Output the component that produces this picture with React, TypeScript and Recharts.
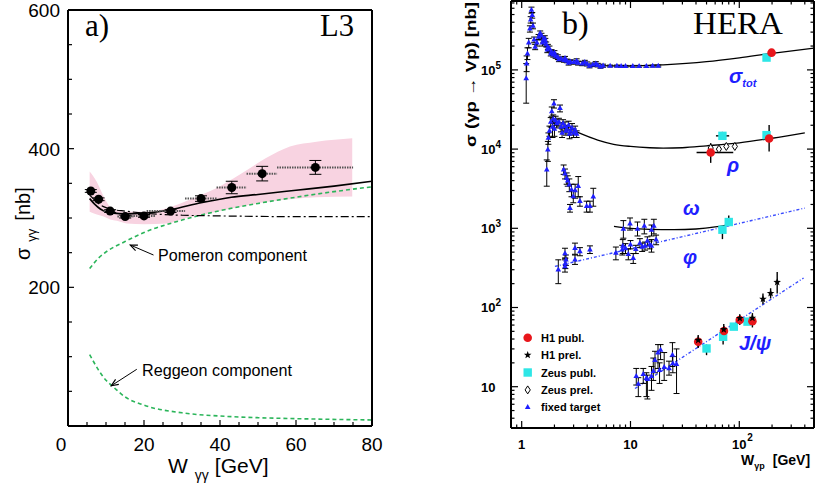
import React from 'react';
import { ComposedChart, Area, Line, Scatter, XAxis, YAxis, ErrorBar, ReferenceLine } from 'recharts';

const FONT = "'Liberation Sans', Arial, Helvetica, sans-serif";
const SERIF = "'Liberation Serif', 'Times New Roman', serif";
const BLUE = '#1f1fff';
const RED = '#e8161b';
const CYAN = '#2ee6e6';
const GREEN = '#2bb55a';
const PINK = '#f8d3e1';

// ---------- panel a) L3, sigma_gg vs W_gg ----------
const L3_W = [6.0, 8.05, 11.1, 15.05, 20.0, 27.0, 35.0, 43.1, 51.1, 65.1];
const L3_SIGMA = [339, 327, 310, 302, 303, 310, 328, 344, 364, 373];
const L3_W_LO = [6.0, 8.05, 9.4, 13.0, 15.9, 20.7, 30.8, 39.1, 47.0, 55.0];
const L3_W_HI = [6.0, 8.05, 12.4, 17.2, 22.9, 30.8, 39.1, 47.0, 55.0, 75.0];
const L3_ERR = [2, 2, 2, 2, 2, 2, 4, 9, 10.5, 10];

const BAND_W = [5.7, 7.6, 9.4, 11.1, 12.9, 15.5, 20, 26, 31, 35, 39, 45, 52, 58.4, 65.4, 74.8];
const BAND_HI = [367, 352, 331, 316, 311, 309, 309, 314, 324, 333, 343, 362, 386, 403, 410, 415];
const BAND_LO = [309, 305, 302, 298, 296, 292, 291, 292, 300, 304, 309, 316, 323, 327, 330, 331];

const FIT_W = [5.7, 7, 8.5, 10, 12, 15, 20, 27, 35, 43, 50, 60, 70, 80];
const FIT_S = [328, 320, 313, 309, 307, 306, 307, 312, 322, 330, 334, 340, 346, 353];

const DD_W = [5.7, 7, 8.5, 10, 12, 15, 20, 25, 30, 40, 60, 80];
const DD_S = [333, 326, 319, 315, 312, 310, 307, 305, 304, 303, 302, 302];

const POM_W = [5.7, 8, 10, 15, 20, 30, 40, 50, 60, 70, 80];
const POM_S = [227, 242, 251, 266, 279, 297, 310.6, 321, 330, 338, 345];

const REG_W = [5.7, 8, 10, 12, 15, 20, 30, 40, 50, 60, 80];
const REG_S = [103, 81, 66, 56, 42, 30, 19, 14.4, 12, 10.6, 8.7];

const A_XTICKS = [0, 5, 10, 15, 20, 25, 30, 35, 40, 45, 50, 55, 60, 65, 70, 75, 80];
const A_YTICKS = [0, 50, 100, 150, 200, 250, 300, 350, 400, 450, 500, 550, 600];

// ---------- panel b) HERA, sigma(gamma p -> V p) vs W ----------
type P = [number, number, number, number]; // W, sigma, low, high
type H = [number, number, number, number, number, number]; // + W low, W high

const FT_TOT: P[] = [
  [1.10, 7.8e4, 3.8e4, 1.2e5], [1.11, 1.2e5, 9.5e4, 1.5e5], [1.13, 1.6e5, 1.35e5, 1.9e5],
  [1.16, 2.2e5, 1.9e5, 2.5e5], [1.19, 3.3e5, 3.0e5, 3.6e5], [1.21, 4.3e5, 3.9e5, 4.7e5],
  [1.23, 5.7e5, 5.2e5, 6.2e5], [1.25, 4.9e5, 4.5e5, 5.3e5], [1.27, 3.6e5, 3.3e5, 3.9e5],
  [1.30, 2.4e5, 2.2e5, 2.6e5], [1.33, 1.95e5, 1.8e5, 2.1e5], [1.38, 2.2e5, 2.0e5, 2.4e5],
  [1.43, 2.6e5, 2.4e5, 2.8e5], [1.48, 2.9e5, 2.7e5, 3.1e5], [1.52, 2.7e5, 2.5e5, 2.9e5],
  [1.55, 2.2e5, 2.0e5, 2.4e5], [1.58, 2.4e5, 2.2e5, 2.6e5], [1.63, 2.5e5, 2.3e5, 2.7e5],
  [1.65, 2.3e5, 2.1e5, 2.5e5], [1.68, 2.1e5, 1.95e5, 2.25e5], [1.72, 1.8e5, 1.65e5, 1.95e5],
  [1.74, 1.95e5, 1.8e5, 2.1e5], [1.80, 1.85e5, 1.7e5, 2.0e5], [1.85, 1.6e5, 1.5e5, 1.7e5],
  [1.88, 1.7e5, 1.6e5, 1.8e5], [1.95, 1.55e5, 1.45e5, 1.65e5], [2.0, 1.65e5, 1.55e5, 1.75e5],
  [2.05, 1.5e5, 1.4e5, 1.6e5], [2.15, 1.45e5, 1.35e5, 1.55e5], [2.2, 1.35e5, 1.27e5, 1.43e5],
  [2.3, 1.38e5, 1.3e5, 1.46e5], [2.45, 1.33e5, 1.25e5, 1.41e5], [2.5, 1.4e5, 1.32e5, 1.48e5],
  [2.6, 1.3e5, 1.23e5, 1.37e5], [2.7, 1.22e5, 1.15e5, 1.29e5], [2.8, 1.27e5, 1.2e5, 1.34e5],
  [3.0, 1.25e5, 1.18e5, 1.32e5], [3.2, 1.3e5, 1.22e5, 1.38e5], [3.3, 1.22e5, 1.15e5, 1.29e5],
  [3.6, 1.2e5, 1.13e5, 1.27e5], [3.8, 1.25e5, 1.18e5, 1.32e5], [4.0, 1.19e5, 1.12e5, 1.26e5],
  [4.2, 1.12e5, 1.06e5, 1.18e5], [4.5, 1.16e5, 1.1e5, 1.22e5], [4.8, 1.2e5, 1.13e5, 1.27e5],
  [5.0, 1.15e5, 1.09e5, 1.21e5], [5.3, 1.1e5, 1.05e5, 1.15e5], [5.6, 1.13e5, 1.08e5, 1.18e5],
  [6.5, 1.12e5, 1.09e5, 1.15e5], [7.5, 1.12e5, 1.09e5, 1.15e5], [8.2, 1.11e5, 1.08e5, 1.14e5],
  [9, 1.11e5, 1.08e5, 1.14e5], [10.5, 1.11e5, 1.08e5, 1.14e5], [12, 1.11e5, 1.08e5, 1.14e5],
  [14, 1.11e5, 1.08e5, 1.14e5], [16, 1.12e5, 1.09e5, 1.15e5], [18, 1.12e5, 1.09e5, 1.15e5],
];

const FT_RHO: P[] = [
  [1.74, 9.8e3, 7.0e3, 1.25e4], [1.76, 1.38e4, 1.15e4, 1.6e4], [1.80, 1.7e4, 1.45e4, 1.95e4],
  [1.85, 2.2e4, 1.9e4, 2.5e4], [1.89, 2.98e4, 2.6e4, 3.4e4], [1.92, 1.9e4, 1.4e4, 2.4e4],
  [1.95, 2.4e4, 2.1e4, 2.7e4], [1.98, 3.73e4, 3.3e4, 4.2e4], [2.0, 1.8e4, 1.45e4, 2.15e4],
  [2.05, 2.3e4, 2.0e4, 2.6e4], [2.1, 2.1e4, 1.85e4, 2.35e4], [2.2, 2.2e4, 1.95e4, 2.45e4],
  [2.25, 3.28e4, 2.95e4, 3.6e4], [2.3, 1.9e4, 1.65e4, 2.15e4], [2.35, 1.6e4, 1.4e4, 1.8e4],
  [2.4, 2.1e4, 1.85e4, 2.35e4], [2.5, 1.95e4, 1.7e4, 2.2e4], [2.55, 1.7e4, 1.5e4, 1.9e4],
  [2.6, 1.8e4, 1.6e4, 2.0e4], [2.7, 2.0e4, 1.75e4, 2.25e4], [2.75, 1.55e4, 1.35e4, 1.75e4],
  [2.8, 1.7e4, 1.5e4, 1.9e4], [2.9, 1.85e4, 1.6e4, 2.1e4], [3.0, 1.6e4, 1.4e4, 1.8e4],
  [3.1, 1.75e4, 1.55e4, 1.95e4], [3.2, 1.55e4, 1.4e4, 1.7e4],
];

const FT_LOW: P[] = [
  [1.70, 5.5e3, 3.4e3, 7.3e3], [2.43, 5.5e3, 4.8e3, 6.3e3], [2.50, 4.9e3, 4.2e3, 5.6e3],
  [2.59, 4.3e3, 3.6e3, 5.0e3], [2.65, 4.0e3, 3.4e3, 4.6e3], [2.74, 3.55e3, 2.9e3, 4.2e3],
  [2.78, 1.8e3, 1.6e3, 2.0e3], [2.87, 3.07e3, 2.5e3, 3.6e3], [2.98, 2.53e3, 2.1e3, 3.0e3],
  [3.1, 3.0e3, 2.4e3, 3.6e3], [3.31, 3.4e3, 2.5e3, 4.5e3], [3.43, 2.2e3, 1.9e3, 2.5e3],
  [3.95, 1.9e3, 1.6e3, 2.2e3], [4.24, 1.9e3, 1.6e3, 2.2e3], [4.55, 2.5e3, 1.9e3, 3.2e3],
];

const FT_OMEGA: P[] = [
  [8.6, 980, 750, 1250], [9.9, 1140, 950, 1350], [11.6, 980, 800, 1200],
  [13.4, 1070, 850, 1300], [15.6, 950, 800, 1100], [16.4, 1070, 850, 1300],
];

const FT_PHI: P[] = [
  [2.17, 300, 200, 400], [2.50, 330, 280, 420], [2.50, 480, 400, 560], [2.52, 360, 310, 420],
  [2.55, 400, 340, 460], [3.09, 560, 470, 650], [3.09, 400, 350, 460], [3.43, 510, 450, 570],
  [4.24, 535, 480, 600], [7.34, 490, 400, 580], [8.4, 535, 460, 610], [8.5, 600, 480, 720],
  [9.0, 560, 480, 640], [9.55, 470, 400, 550], [10.0, 620, 550, 700], [10.6, 420, 360, 480],
  [11.2, 545, 480, 610], [12.2, 650, 570, 740], [12.8, 580, 510, 650], [13.6, 600, 530, 670],
  [14.3, 690, 600, 780], [15.0, 620, 550, 690], [15.6, 600, 500, 720], [17.2, 720, 620, 820],
];

const FT_JPSI: P[] = [
  [11.3, 13.6, 10.5, 17], [11.8, 10.8, 7.5, 13], [13.1, 14.4, 11, 17], [14.0, 12.8, 7.5, 15],
  [14.3, 12.4, 7, 14], [15.6, 13.6, 9, 18], [16.2, 15.7, 12, 23], [16.8, 21.6, 15, 28],
  [17.9, 26.8, 17, 34], [18.5, 16.1, 11, 20], [18.9, 29.2, 22, 34], [20.4, 17.6, 12, 27],
  [22.6, 17.0, 14, 21], [24.3, 25.2, 18, 36], [24.5, 19.6, 15, 24], [26.5, 19.2, 8.2, 30],
];

const H1_PUBL: H[] = [
  [198, 1.65e5, 1.6e5, 1.7e5, 198, 198],
  [54.6, 9.06e3, 6.7e3, 1.19e4, 40.5, 88],
  [188, 1.36e4, 9.3e3, 2.02e4, 188, 188],
  [41.9, 36.9, 31, 43, 41.9, 41.9],
  [72.3, 50.4, 43, 58, 72.3, 72.3],
  [101, 69.4, 60, 80, 101, 101],
  [132, 67.2, 56, 80, 132, 132],
];

const ZEUS_PUBL: H[] = [
  [178, 1.43e5, 1.38e5, 1.48e5, 178, 178],
  [70, 1.47e4, 1.33e4, 1.65e4, 61, 80.7],
  [178, 1.5e4, 1.35e4, 1.65e4, 178, 178],
  [70, 960, 730, 1000, 70, 70],
  [80, 1200, 1100, 1450, 80, 80],
  [50, 30.4, 25, 34, 50, 50],
  [71, 42.7, 34, 50, 71, 71],
  [89, 57.3, 52, 62, 89, 89],
  [119, 66.3, 60, 72, 119, 119],
];

const H1_PREL: P[] = [
  [41.9, 38.7, 31, 45], [72, 52.8, 44, 62], [101, 73, 62, 82], [132, 73.5, 60, 85],
  [165, 128, 110, 150], [194, 151, 130, 175], [223, 209, 150, 280],
];

const ZEUS_PREL: P[] = [
  [54.6, 1.03e4, 0.98e4, 1.08e4], [65, 1.0e4, 0.96e4, 1.05e4],
  [76, 1.08e4, 1.03e4, 1.13e4], [91, 1.08e4, 1.03e4, 1.13e4],
];

const TOT_W = [5.5, 10, 20, 50, 100, 200, 486];
const TOT_S = [1.13e5, 1.12e5, 1.16e5, 1.27e5, 1.42e5, 1.62e5, 1.88e5];
const RHO_W = [3.2, 5, 7, 10, 15, 20, 30, 50, 100, 200, 400];
const RHO_S = [1.65e4, 1.3e4, 1.15e4, 1.08e4, 1.04e4, 1.03e4, 1.04e4, 1.1e4, 1.2e4, 1.37e4, 1.6e4];
const OMEGA_W = [7.05, 10, 15, 25, 40, 60, 76];
const OMEGA_S = [1060, 1000, 970, 960, 980, 1040, 1100];
const PHI_W = [2.02, 400];
const PHI_S = [330, 1800];
const JPSI_W = [11, 390];
const JPSI_S = [9.5, 236];

const B_XTICKS = [0.8, 0.9, 1, 2, 3, 4, 5, 6, 7, 8, 9, 10, 20, 30, 40, 50, 60, 70, 80, 90, 100, 200, 300, 400];
const B_YTICKS = [
  3, 4, 5, 6, 7, 8, 9, 10, 20, 30, 40, 50, 60, 70, 80, 90,
  100, 200, 300, 400, 500, 600, 700, 800, 900, 1e3, 2e3, 3e3, 4e3, 5e3, 6e3, 7e3, 8e3, 9e3,
  1e4, 2e4, 3e4, 4e4, 5e4, 6e4, 7e4, 8e4, 9e4, 1e5, 2e5, 3e5, 4e5, 5e5, 6e5, 7e5,
];

// ---------- tables built for recharts ----------
const curve = (ws: number[], ss: number[]) => ws.map((w, i) => ({ w, s: ss[i] }));
const pts = (rows: P[]) => rows.map(([w, s, lo, hi]) => ({ w, s, ey: [s - lo, hi - s] }));
const hpts = (rows: H[]) => rows.map(([w, s, lo, hi, wl, wh]) => ({ w, s, ey: [s - lo, hi - s], ex: [w - wl, wh - w] }));

const l3Points = L3_W.map((w, i) => ({ w, s: L3_SIGMA[i], ex: [w - L3_W_LO[i], L3_W_HI[i] - w], ey: L3_ERR[i] }));
const bandData = BAND_W.map((w, i) => ({ w, band: [BAND_LO[i], BAND_HI[i]] }));
const fixedTarget = pts([...FT_TOT, ...FT_RHO, ...FT_LOW, ...FT_OMEGA, ...FT_PHI, ...FT_JPSI]);

// ---------- ticks ----------
function AXTick({ x, y, payload }: any) {
  const v = payload.value;
  const major = v % 20 === 0;
  return (
    <g>
      {v > 0 && v < 80 && <line x1={x} x2={x} y1={y} y2={y - (major ? 6 : 4)} stroke="#000" strokeWidth={1.2} />}
      {major && (
        <text x={v === 0 ? x - 7 : x} y={y + 25} textAnchor="middle" fontFamily={FONT} fontSize={19} fill="#000">{v}</text>
      )}
    </g>
  );
}

function AYTick({ x, y, payload }: any) {
  const v = payload.value;
  const major = v % 200 === 0 && v > 0;
  return (
    <g>
      {v > 0 && v < 600 && <line x1={x} x2={x + (major ? 6 : 4)} y1={y} y2={y} stroke="#000" strokeWidth={1.2} />}
      {major && (
        <text x={x - 8} y={y + 7} textAnchor="end" fontFamily={FONT} fontSize={19} fill="#000">{v}</text>
      )}
    </g>
  );
}

const decade = (v: number) => Math.abs(Math.log10(v) - Math.round(Math.log10(v))) < 1e-6;

function BXTick({ x, y, payload }: any) {
  const v = payload.value;
  const major = decade(v);
  const e = Math.round(Math.log10(v));
  return (
    <g>
      <line x1={x} x2={x} y1={y} y2={y - (major ? 7 : 3.5)} stroke="#000" strokeWidth={1.2} />
      {major && e < 2 && (
        <text x={x} y={y + 21} textAnchor="middle" fontFamily={FONT} fontWeight="bold" fontSize={13} fill="#000">{e === 0 ? '1' : '10'}</text>
      )}
      {major && e === 2 && (
        <g>
          <text x={x} y={y + 21} textAnchor="middle" fontFamily={FONT} fontWeight="bold" fontSize={13} fill="#000">10</text>
          <text x={x + 8} y={y + 13} fontFamily={FONT} fontWeight="bold" fontSize={10} fill="#000">2</text>
        </g>
      )}
    </g>
  );
}

function BTopTick({ x, y, payload }: any) {
  const major = decade(payload.value);
  return <line x1={x} x2={x} y1={y} y2={y + (major ? 7 : 3.5)} stroke="#000" strokeWidth={1.2} />;
}

function BYTick({ x, y, payload }: any) {
  const v = payload.value;
  const major = decade(v);
  const e = Math.round(Math.log10(v));
  return (
    <g>
      <line x1={x} x2={x + (major ? 7 : 3.5)} y1={y} y2={y} stroke="#000" strokeWidth={1.2} />
      {major && (
        <text x={x - 30} y={y + 5} fontFamily={FONT} fontWeight="bold" fontSize={13} fill="#000">
          10{e > 1 && <tspan dy={-6} fontSize={10}>{e}</tspan>}
        </text>
      )}
    </g>
  );
}

function BRightTick({ x, y, payload }: any) {
  const major = decade(payload.value);
  return <line x1={x} x2={x - (major ? 7 : 3.5)} y1={y} y2={y} stroke="#000" strokeWidth={1.2} />;
}

// ---------- markers ----------
const starPath = (cx: number, cy: number, R: number) => {
  let d = '';
  for (let i = 0; i < 10; i++) {
    const r = i % 2 === 0 ? R : R * 0.42;
    const a = -Math.PI / 2 + (i * Math.PI) / 5;
    d += `${i === 0 ? 'M' : 'L'}${cx + r * Math.cos(a)},${cy + r * Math.sin(a)}`;
  }
  return d + 'Z';
};

const TriShape = ({ cx, cy }: any) => (
  <path d={`M${cx},${cy - 3.2}L${cx + 2.8},${cy + 1.8}L${cx - 2.8},${cy + 1.8}Z`} fill={BLUE} />
);
const RedDot = ({ cx, cy }: any) => <circle cx={cx} cy={cy} r={4.3} fill={RED} />;
const CyanSq = ({ cx, cy }: any) => <rect x={cx - 4.2} y={cy - 4.2} width={8.4} height={8.4} fill={CYAN} />;
const StarShape = ({ cx, cy }: any) => <path d={starPath(cx, cy, 4)} fill="#000" />;
const DiamondShape = ({ cx, cy }: any) => (
  <path d={`M${cx},${cy - 4}L${cx + 2.6},${cy}L${cx},${cy + 4}L${cx - 2.6},${cy}Z`} fill="#fff" stroke="#000" strokeWidth={1} />
);
const BlackDot = ({ cx, cy }: any) => <circle cx={cx} cy={cy} r={4.5} fill="#000" />;

const Arrow = ({ x1, y1, x2, y2 }: any) => {
  const a = Math.atan2(y2 - y1, x2 - x1);
  const L = 7;
  const W = 3;
  const bx = x2 - L * Math.cos(a);
  const by = y2 - L * Math.sin(a);
  const px = -Math.sin(a) * W;
  const py = Math.cos(a) * W;
  return (
    <g>
      <line x1={x1} y1={y1} x2={x2} y2={y2} stroke="#000" strokeWidth={1} />
      <path d={`M${bx + px},${by + py}L${x2},${y2}L${bx - px},${by - py}`} fill="none" stroke="#000" strokeWidth={1.2} />
    </g>
  );
};

const LEGEND = [
  { label: 'H1 publ.', Icon: RedDot },
  { label: 'H1 prel.', Icon: StarShape },
  { label: 'Zeus publ.', Icon: CyanSq },
  { label: 'Zeus prel.', Icon: DiamondShape },
  { label: 'fixed target', Icon: TriShape },
];

export default function App() {
  return (
    <div style={{ position: 'absolute', left: 0, top: 0, width: 815, height: 486, background: '#fff', overflow: 'hidden' }}>
      {/* panel a */}
      <div style={{ position: 'absolute', left: 0, top: 0 }}>
        <ComposedChart width={400} height={486} margin={{ top: 9, right: 27, bottom: 0, left: 8 }}>
          <XAxis dataKey="w" type="number" domain={[0, 80]} allowDataOverflow ticks={A_XTICKS} interval={0}
            height={60} tickSize={0} tickMargin={0} tickLine={false} tick={AXTick}
            axisLine={{ stroke: '#000', strokeWidth: 2 }} />
          <XAxis xAxisId="t" orientation="top" dataKey="w" type="number" domain={[0, 80]} height={1}
            tick={false} tickLine={false} axisLine={{ stroke: '#000', strokeWidth: 2 }} />
          <YAxis type="number" domain={[0, 600]} allowDataOverflow ticks={A_YTICKS} interval={0}
            width={60} tickSize={0} tickMargin={0} tickLine={false} tick={AYTick}
            axisLine={{ stroke: '#000', strokeWidth: 2 }} />
          <YAxis yAxisId="r" orientation="right" type="number" domain={[0, 600]} width={1}
            tick={false} tickLine={false} axisLine={{ stroke: '#000', strokeWidth: 2 }} />
          <Area data={bandData} dataKey="band" type="monotone" fill={PINK} fillOpacity={1} stroke="none" isAnimationActive={false} />
          <Line data={curve(POM_W, POM_S)} dataKey="s" type="monotone" stroke={GREEN} strokeWidth={1.6}
            strokeDasharray="4 3" dot={false} isAnimationActive={false} />
          <Line data={curve(REG_W, REG_S)} dataKey="s" type="monotone" stroke={GREEN} strokeWidth={1.6}
            strokeDasharray="4 3" dot={false} isAnimationActive={false} />
          <Line data={curve(DD_W, DD_S)} dataKey="s" type="monotone" stroke="#000" strokeWidth={1.2}
            strokeDasharray="8 3 2 3" dot={false} isAnimationActive={false} />
          <Line data={curve(FIT_W, FIT_S)} dataKey="s" type="monotone" stroke="#000" strokeWidth={1.6}
            dot={false} isAnimationActive={false} />
          <Scatter data={l3Points} dataKey="s" shape={BlackDot} isAnimationActive={false}>
            <ErrorBar dataKey="ex" direction="x" width={0} stroke="#555" strokeWidth={2} strokeDasharray="1.5 1" isAnimationActive={false} />
            <ErrorBar dataKey="ey" direction="y" width={6} stroke="#000" strokeWidth={1} isAnimationActive={false} />
          </Scatter>
          <ReferenceLine segment={[{ x: 22.5, y: 246.6 }, { x: 16.4, y: 261 }]} shape={Arrow} />
          <ReferenceLine segment={[{ x: 18.1, y: 81.8 }, { x: 11.4, y: 58.1 }]} shape={Arrow} />
        </ComposedChart>
      </div>

      {/* panel b */}
      <div style={{ position: 'absolute', left: 420, top: 0 }}>
        <ComposedChart width={395} height={486} margin={{ top: 0, right: 0, bottom: 0, left: 41 }}>
          <XAxis dataKey="w" type="number" scale="log" domain={[0.7975, 486]} allowDataOverflow ticks={B_XTICKS}
            interval={0} height={58} tickSize={0} tickMargin={0} tickLine={false} tick={BXTick}
            axisLine={{ stroke: '#000', strokeWidth: 2 }} />
          <XAxis xAxisId="t" orientation="top" dataKey="w" type="number" scale="log" domain={[0.7975, 486]}
            allowDataOverflow ticks={B_XTICKS} interval={0} height={1} tickSize={0} tickMargin={0}
            tickLine={false} tick={BTopTick} axisLine={{ stroke: '#000', strokeWidth: 2 }} />
          <YAxis type="number" scale="log" domain={[3.01, 7.41e5]} allowDataOverflow ticks={B_YTICKS}
            interval={0} width={50} tickSize={0} tickMargin={0} tickLine={false} tick={BYTick}
            axisLine={{ stroke: '#000', strokeWidth: 2 }} />
          <YAxis yAxisId="r" orientation="right" type="number" scale="log" domain={[3.01, 7.41e5]}
            allowDataOverflow ticks={B_YTICKS} interval={0} width={1} tickSize={0} tickMargin={0}
            tickLine={false} tick={BRightTick} axisLine={{ stroke: '#000', strokeWidth: 2 }} />

          <Line data={curve(PHI_W, PHI_S)} dataKey="s" type="linear" stroke="#3a4cff" strokeWidth={1.4}
            strokeDasharray="3 2 1 2" dot={false} isAnimationActive={false} />
          <Line data={curve(JPSI_W, JPSI_S)} dataKey="s" type="linear" stroke="#3a4cff" strokeWidth={1.4}
            strokeDasharray="3 2 1 2" dot={false} isAnimationActive={false} />
          <Line data={curve(TOT_W, TOT_S)} dataKey="s" type="monotone" stroke="#000" strokeWidth={1.3}
            dot={false} isAnimationActive={false} />
          <Line data={curve(RHO_W, RHO_S)} dataKey="s" type="monotone" stroke="#000" strokeWidth={1.3}
            dot={false} isAnimationActive={false} />
          <Line data={curve(OMEGA_W, OMEGA_S)} dataKey="s" type="monotone" stroke="#000" strokeWidth={1.3}
            dot={false} isAnimationActive={false} />

          <Scatter data={fixedTarget} dataKey="s" shape={TriShape} isAnimationActive={false}>
            <ErrorBar dataKey="ey" direction="y" width={3} stroke="#000" strokeWidth={1} isAnimationActive={false} />
          </Scatter>
          <Scatter data={pts(ZEUS_PREL)} dataKey="s" shape={DiamondShape} isAnimationActive={false}>
            <ErrorBar dataKey="ey" direction="y" width={0} stroke="#000" strokeWidth={1} isAnimationActive={false} />
          </Scatter>
          <Scatter data={hpts(ZEUS_PUBL)} dataKey="s" shape={CyanSq} isAnimationActive={false}>
            <ErrorBar dataKey="ey" direction="y" width={0} stroke="#000" strokeWidth={1.4} isAnimationActive={false} />
            <ErrorBar dataKey="ex" direction="x" width={0} stroke="#000" strokeWidth={1.4} isAnimationActive={false} />
          </Scatter>
          <Scatter data={hpts(H1_PUBL)} dataKey="s" shape={RedDot} isAnimationActive={false}>
            <ErrorBar dataKey="ey" direction="y" width={0} stroke="#000" strokeWidth={1.4} isAnimationActive={false} />
            <ErrorBar dataKey="ex" direction="x" width={0} stroke="#000" strokeWidth={1.4} isAnimationActive={false} />
          </Scatter>
          <Scatter data={pts(H1_PREL)} dataKey="s" shape={StarShape} isAnimationActive={false}>
            <ErrorBar dataKey="ey" direction="y" width={0} stroke="#000" strokeWidth={1.4} isAnimationActive={false} />
          </Scatter>
        </ComposedChart>
      </div>

      {/* text overlay */}
      <svg width={815} height={486} style={{ position: 'absolute', left: 0, top: 0, pointerEvents: 'none' }}>
        <text x={85} y={36} fontFamily={SERIF} fontSize={31}>a)</text>
        <text x={320} y={36} fontFamily={SERIF} fontSize={31} textLength={34} lengthAdjust="spacingAndGlyphs">L3</text>
        <text transform="translate(30,260) rotate(-90)" fontFamily={FONT} fontSize={20}>
          σ<tspan dx={6} dy={6} fontSize={13}>γγ</tspan><tspan dx={8} dy={-6}>[nb]</tspan>
        </text>
        <text x={168} y={473} fontFamily={FONT} fontSize={21}>
          W<tspan dx={7} dy={7} fontSize={14}>γγ</tspan><tspan dx={6} dy={-7}>[GeV]</tspan>
        </text>
        <text x={158} y={261} fontFamily={FONT} fontSize={17} textLength={149} lengthAdjust="spacingAndGlyphs">Pomeron component</text>
        <text x={142} y={376} fontFamily={FONT} fontSize={17} textLength={150} lengthAdjust="spacingAndGlyphs">Reggeon component</text>

        <text x={562} y={34} fontFamily={SERIF} fontSize={32}>b)</text>
        <text x={693} y={34} fontFamily={SERIF} fontSize={31} textLength={90} lengthAdjust="spacingAndGlyphs">HERA</text>
        <text transform="translate(476,147) rotate(-90)" fontFamily={FONT} fontWeight="bold" fontSize={15}
          textLength={145} lengthAdjust="spacingAndGlyphs">σ (γp → Vp)  [nb]</text>
        <text x={741} y={465} fontFamily={FONT} fontWeight="bold" fontSize={14}>
          W<tspan dy={4} fontSize={9}>γp</tspan><tspan dx={8} dy={-4}>[GeV]</tspan>
        </text>

        <g fill={BLUE} fontFamily={FONT} fontWeight="bold" fontStyle="italic">
          <text x={729} y={83} fontSize={20}>σ<tspan dy={4} fontSize={11}>tot</tspan></text>
          <text x={727} y={172} fontSize={20}>ρ</text>
          <text x={683} y={215} fontSize={20}>ω</text>
          <text x={683} y={264} fontSize={20}>φ</text>
          <text x={739} y={350} fontSize={20}>J/ψ</text>
        </g>

        {LEGEND.map(({ label, Icon }, i) => {
          const y = 337.7 + i * 17.4;
          return (
            <g key={label}>
              <Icon cx={527.7} cy={y} />
              <text x={541} y={y + 4} fontFamily={FONT} fontWeight="bold" fontSize={11}>{label}</text>
            </g>
          );
        })}
      </svg>
    </div>
  );
}
